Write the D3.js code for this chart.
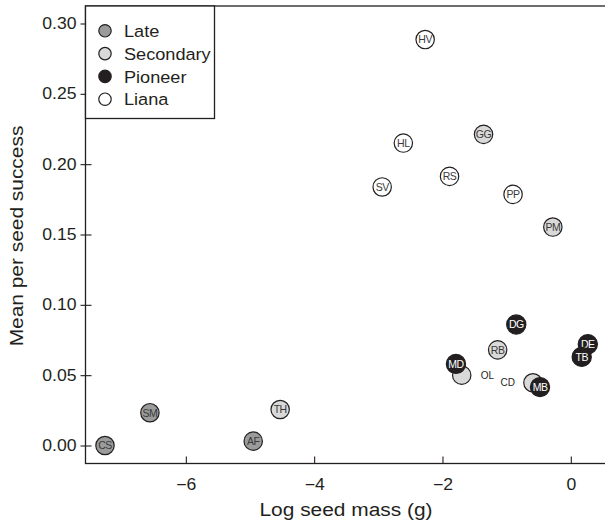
<!DOCTYPE html>
<html><head><meta charset="utf-8">
<script src="https://cdnjs.cloudflare.com/ajax/libs/d3/7.8.5/d3.min.js"></script>
<style>body{margin:0;background:#fff}svg{display:block}</style>
</head><body>
<script>
const codes   = ["CS","SM","AF","TH","HV","HL","SV","RS","GG","PP","PM","DG","RB","MD","OL","CD","MB","DE","TB"];
const logMass = [-7.26,-6.56,-4.95,-4.53,-2.27,-2.61,-2.94,-1.89,-1.36,-0.90,-0.28,-0.85,-1.14,-1.79,-1.70,-0.59,-0.48,0.265,0.17];
const success = [0.000,0.0233,0.0031,0.0256,0.2886,0.2150,0.1838,0.1913,0.2212,0.1785,0.1553,0.0860,0.0680,0.0580,0.0500,0.0446,0.0415,0.0720,0.0630];
const groups  = ["Late","Late","Late","Secondary","Liana","Liana","Liana","Liana","Secondary","Liana","Secondary","Pioneer","Secondary","Pioneer","Secondary","Secondary","Pioneer","Pioneer","Pioneer"];
const groupNames = ["Late","Secondary","Pioneer","Liana"];
const groupFill  = ["#9b9b9b","#d9d9d9","#231f20","#ffffff"];
const outsideLabels = {OL:"right", CD:"left"};
const xTicks = [-6,-4,-2,0];
const yTicks = [0,0.05,0.10,0.15,0.20,0.25,0.30];

const W=605,H=525;
const FONT="'Liberation Sans', Arial, Helvetica, sans-serif";
const svg=d3.select("body").append("svg").attr("width",W).attr("height",H)
  .style("font-family",FONT);
const L=85.5,T=6,R=612,B=463.5;
const x=d3.scaleLinear().domain([-7.556,0.533]).range([86,605]);
const y=d3.scaleLinear().domain([0,0.30]).range([445.5,23.5]);
const ink="#231f20";
const fill=d3.scaleOrdinal().domain(groupNames).range(groupFill);
const SX=1.1;
function stretch(sel,s){
  sel.each(function(){
    const t=d3.select(this);
    const ax=+t.attr("x")||0;
    t.attr("transform",`translate(${ax*(1-s)},0) scale(${s},1)`);
  });
}

// frame
svg.append("rect").attr("x",L).attr("y",T).attr("width",R-L).attr("height",B-T)
  .attr("fill","none").attr("stroke",ink).attr("stroke-width",1.3);

// axes
const xa=svg.append("g").attr("transform",`translate(0,${B})`)
  .call(d3.axisBottom(x).tickValues(xTicks).tickSizeInner(-7).tickSizeOuter(0).tickPadding(15)
     .tickFormat(d=>d<0?"\u2212"+Math.abs(d):d));
const ya=svg.append("g").attr("transform",`translate(${L},0)`)
  .call(d3.axisLeft(y).tickValues(yTicks).tickSizeInner(5).tickSizeOuter(0).tickPadding(4)
     .tickFormat(d3.format(".2f")));
ya.selectAll(".tick line").attr("x1",6);
[xa,ya].forEach(a=>{
  a.select(".domain").remove();
  a.selectAll("line").attr("stroke",ink).attr("stroke-width",1.1);
  a.selectAll("text").attr("fill",ink).style("font-size","16px").style("font-family",FONT);
  stretch(a.selectAll("text"),SX);
});

// titles
const xt=svg.append("text").attr("x",346).attr("y",516).attr("text-anchor","middle")
  .attr("fill",ink).style("font-size","19px").text("Log seed mass (g)");
stretch(xt,SX);
svg.append("text").attr("transform",`translate(23,236) rotate(-90) scale(${SX},1)`).attr("text-anchor","middle")
  .attr("fill",ink).style("font-size","19px").text("Mean per seed success");

// points
const data=codes.map((c,i)=>({code:c,x:logMass[i],y:success[i],g:groups[i]}));
const order=["Liana","Late","Secondary","Pioneer"];
data.sort((a,b)=>order.indexOf(a.g)-order.indexOf(b.g));
const pts=svg.append("g").selectAll("g").data(data).join("g")
  .attr("transform",d=>`translate(${x(d.x)},${y(d.y)})`);
pts.append("circle").attr("r",d=>d.g==="Pioneer"?9.6:9.2)
  .attr("fill",d=>fill(d.g)).attr("stroke",ink).attr("stroke-width",1.2);
pts.append("text")
  .attr("x",d=>outsideLabels[d.code]==="right"?19:outsideLabels[d.code]==="left"?-18:0)
  .attr("y",d=>outsideLabels[d.code]?3.5:3.8)
  .attr("text-anchor",d=>outsideLabels[d.code]==="right"?"start":outsideLabels[d.code]==="left"?"end":"middle")
  .attr("fill",d=>outsideLabels[d.code]?ink:(d.g==="Pioneer"?"#fff":"#3a3a3a"))
  .style("font-size",d=>outsideLabels[d.code]?"10px":"10.5px")
  .style("letter-spacing",d=>outsideLabels[d.code]?"0px":"-0.5px")
  .text(d=>d.code);

// legend
const lg=svg.append("g");
lg.append("rect").attr("x",L).attr("y",T).attr("width",129).attr("height",112.5)
  .attr("fill","#fff").attr("stroke",ink).attr("stroke-width",1.3);
const li=lg.selectAll("g.it").data(groupNames).join("g")
  .attr("transform",(d,i)=>`translate(105,${30.8+i*22.8})`);
li.append("circle").attr("r",6.2).attr("fill",d=>fill(d)).attr("stroke",ink).attr("stroke-width",1.2);
const lt=li.append("text").attr("x",19).attr("y",6.2).attr("fill",ink).style("font-size","16.5px").text(d=>d);
stretch(lt,SX);
</script>
</body></html>
